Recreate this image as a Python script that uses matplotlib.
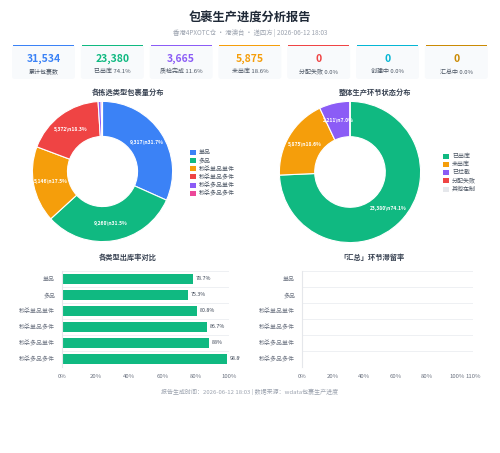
import numpy as np
import matplotlib
matplotlib.use("Agg")
import matplotlib.pyplot as plt
from matplotlib.patches import FancyBboxPatch, Rectangle
from matplotlib.transforms import Bbox, TransformedBbox

plt.rcParams['font.family'] = ['Noto Sans CJK SC', 'DejaVu Sans']

W, H = 500, 453

# ---- data ----
kpi_values = ["31,534", "23,380", "3,665", "5,875", "0", "0", "0"]
kpi_labels = ["累计包裹数", "已出库 74.1%", "质检完成 11.6%", "未出库 18.6%",
              "分配失败 0.0%", "创建中 0.0%", "汇总中 0.0%"]
kpi_colors = ["#3b82f6", "#10b981", "#8b5cf6", "#f59e0b", "#ef4444", "#06b6d4", "#ca8a04"]

pick_types = ["单品", "多品", "秒杀单品单件", "秒杀单品多件", "秒杀多品单件", "秒杀多品多件"]
pick_counts = [9317, 9260, 5146, 5372, 205, 90]
pick_pcts = ["31.7%", "31.5%", "17.5%", "18.3%", "0.7%", "0.3%"]
pick_colors = ["#3b82f6", "#10b981", "#f59e0b", "#ef4444", "#8b5cf6", "#ec4899"]

stage_names = ["已出库", "未出库", "已拦截", "分配失败", "其他在制"]
stage_counts = [23380, 5875, 2211, 0, 0]
stage_pcts = ["74.1%", "18.6%", "7.0%", "0.0%", "0.0%"]
stage_colors = ["#10b981", "#f59e0b", "#8b5cf6", "#ef4444", "#e5e7eb"]

out_rate = [78.7, 75.3, 80.8, 86.7, 88, 98.8]
out_rate_labels = ["78.7%", "75.3%", "80.8%", "86.7%", "88%", "98.8%"]
stay_rate = [0, 0, 0, 0, 0, 0]


def px(x0, y0, w, h):
    return [x0 / W, 1 - (y0 + h) / H, w / W, h / H]


def fx(x):
    return x / W


def fy(y):
    return 1 - y / H


fig = plt.figure(figsize=(W / 100, H / 100), dpi=100)
fig.patch.set_facecolor("white")

# header
fig.text(fx(250), fy(18), "包裹生产进度分析报告", ha="center", va="center",
         fontsize=8.8, fontweight="bold", color="#1f2937")
fig.text(fx(250), fy(33), "香港4PXOTC仓 · 港澳台 · 递四方 | 2026-06-12 18:03", ha="center",
         va="center", fontsize=4.6, color="#9ca3af")

# KPI cards
card_w, gap = 63, 5.8
for i, (v, lab, c) in enumerate(zip(kpi_values, kpi_labels, kpi_colors)):
    x0 = 12 + i * (card_w + gap)
    card = FancyBboxPatch((fx(x0), fy(79)), card_w / W, 34 / H,
                          boxstyle="round,pad=0,rounding_size=0.006",
                          transform=fig.transFigure, facecolor="#f8fafc",
                          edgecolor="none")
    fig.patches.append(card)
    top = Rectangle((fx(x0 + 1), fy(46)), (card_w - 2) / W, 1.3 / H,
                    transform=fig.transFigure, facecolor=c, edgecolor="none")
    fig.patches.append(top)
    fig.text(fx(x0 + card_w / 2), fy(59), v, ha="center", va="center",
             fontsize=7.5, fontweight="bold", color=c)
    fig.text(fx(x0 + card_w / 2), fy(71.5), lab, ha="center", va="center",
             fontsize=4.3, color="#4b5563")


def donut(ax, counts, pcts, colors):
    wedges, _ = ax.pie(counts, colors=colors, startangle=90, counterclock=False,
                       radius=1, wedgeprops=dict(width=0.5, edgecolor="white", linewidth=0.8))
    total = sum(counts)
    ang0 = 90
    for cnt, p in zip(counts, pcts):
        frac = cnt / total
        if frac > 0.05:
            mid = np.deg2rad(ang0 - frac * 360 / 2)
            r = 0.75
            ax.text(r * np.cos(mid), r * np.sin(mid), f"{cnt:,}\\n{p}", ha="center",
                    va="center", fontsize=3.6, fontweight="bold", color="white")
        ang0 -= frac * 360
    ax.set_xlim(-1.02, 1.02)
    ax.set_ylim(-1.02, 1.02)
    ax.set_aspect("equal")
    ax.axis("off")
    return wedges


# left donut
ax1 = fig.add_axes(px(31, 100, 143, 143))
donut(ax1, pick_counts, pick_pcts, pick_colors)
fig.text(fx(128), fy(92), "各拣选类型包裹量分布", ha="center", va="center",
         fontsize=5.2, fontweight="bold", color="#374151")
for i, (n, c) in enumerate(zip(pick_types, pick_colors)):
    yy = 152 + i * 8.3
    fig.patches.append(Rectangle((fx(190), fy(yy + 2.5)), 5.5 / W, 5 / H,
                                 transform=fig.transFigure, facecolor=c, edgecolor="none"))
    fig.text(fx(199), fy(yy), n, ha="left", va="center", fontsize=4.3, color="#4b5563")

# right donut
ax2 = fig.add_axes(px(278, 100, 144, 144))
donut(ax2, stage_counts, stage_pcts, stage_colors)
fig.text(fx(375), fy(92), "整体生产环节状态分布", ha="center", va="center",
         fontsize=5.2, fontweight="bold", color="#374151")
for i, (n, c) in enumerate(zip(stage_names, stage_colors)):
    yy = 156 + i * 8.3
    fig.patches.append(Rectangle((fx(443), fy(yy + 2.5)), 5.5 / W, 5 / H,
                                 transform=fig.transFigure, facecolor=c, edgecolor="none"))
    fig.text(fx(452), fy(yy), n, ha="left", va="center", fontsize=4.3, color="#4b5563")


def bar_axes(ax, vals, xmax, ticks, ticklabels):
    y = np.arange(len(pick_types))
    ax.barh(y, vals, height=0.68, color="#10b981", edgecolor="none")
    ax.set_ylim(len(pick_types) - 0.5, -0.5)
    ax.set_xlim(0, xmax)
    ax.set_yticks(y)
    ax.set_yticklabels(pick_types, fontsize=4.3, color="#6b7280")
    ax.set_xticks(ticks)
    ax.set_xticklabels(ticklabels, fontsize=4.3, color="#6b7280")
    ax.tick_params(length=0, pad=5)
    for s in ["top", "right", "bottom"]:
        ax.spines[s].set_visible(False)
    ax.spines["left"].set_color("#e5e7eb")
    for b in np.arange(-0.5, len(pick_types) + 0.5, 1):
        ax.axhline(b, color="#eef0f3", linewidth=0.7, zorder=0)
    ax.set_facecolor("none")


ax3 = fig.add_axes(px(62, 271, 167, 96))
bar_axes(ax3, out_rate, 100, [0, 20, 40, 60, 80, 100], ["0%", "20%", "40%", "60%", "80%", "100%"])
clip = TransformedBbox(Bbox([[0, 0], [240 / W, 1]]), fig.transFigure)
for i, (v, lab) in enumerate(zip(out_rate, out_rate_labels)):
    t = ax3.text(v + 1.5, i, lab, ha="left", va="center", fontsize=3.8, color="#374151")
    t.set_clip_box(clip)
    t.set_clip_on(True)
fig.text(fx(128), fy(257), "各类型出库率对比", ha="center", va="center",
         fontsize=5.2, fontweight="bold", color="#374151")

ax4 = fig.add_axes(px(302, 271, 171, 96))
bar_axes(ax4, stay_rate, 110, [0, 20, 40, 60, 80, 100, 110],
         ["0%", "20%", "40%", "60%", "80%", "100%", "110%"])
fig.text(fx(372), fy(257), "「汇总」环节滞留率", ha="center", va="center",
         fontsize=5.2, fontweight="bold", color="#374151")

fig.text(fx(250), fy(392), "报告生成时间：2026-06-12 18:03 | 数据来源：wdata包裹生产进度",
         ha="center", va="center", fontsize=4.3, color="#9ca3af")

fig.savefig("out.png", dpi=100, facecolor="white")
